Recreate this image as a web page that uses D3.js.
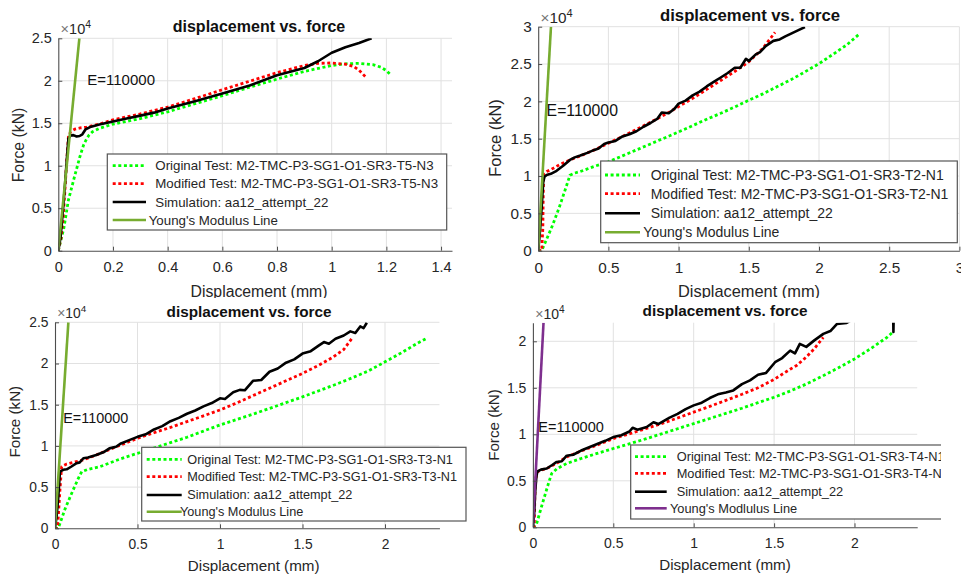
<!DOCTYPE html>
<html>
<head>
<meta charset="utf-8">
<script src="https://cdn.jsdelivr.net/npm/d3@7"></script>
<style>
  body { margin: 0; background: #fff; }
  svg { display: block; }
</style>
</head>
<body>
<svg id="fig" width="961" height="577"></svg>
<script>
// ---------------- data: displacement (mm), force (kN) ----------------

// Specimen T5-N3
const t5Original = [[0,0],[0.02,2600],[0.037,5960],[0.06,8800],[0.079,11060],[0.092,12400],[0.101,13000],[0.112,13600],[0.125,14000],[0.15,14400],[0.2,14900],[0.3,15550],[0.4,16350],[0.5,17300],[0.6,18250],[0.7,19250],[0.8,20200],[0.9,21100],[1.0,21800],[1.05,22000],[1.1,22050],[1.15,21900],[1.18,21600],[1.2,21200],[1.213,20800]];
const t5Modified = [[0,0],[0.01,1500],[0.018,4000],[0.025,7500],[0.031,10700],[0.037,13400],[0.045,14000],[0.06,14300],[0.08,14450],[0.104,14550],[0.15,14900],[0.2,15400],[0.3,16100],[0.4,16900],[0.5,17900],[0.6,18950],[0.7,19950],[0.8,20950],[0.9,21800],[0.95,22050],[1.0,22100],[1.05,21950],[1.08,21700],[1.1,21250],[1.124,20450]];
const t5Simulation = [[0,0],[0.008,1500],[0.018,5200],[0.025,8000],[0.031,10700],[0.037,13200],[0.045,13550],[0.055,13600],[0.067,13450],[0.078,13500],[0.088,13700],[0.1,14300],[0.12,14600],[0.15,14850],[0.2,15200],[0.25,15550],[0.3,15900],[0.35,16250],[0.4,16750],[0.5,17600],[0.6,18500],[0.7,19450],[0.8,20650],[0.9,21500],[0.95,22300],[1.0,23300],[1.05,23950],[1.1,24450],[1.146,25000]];
const t5Youngs = [[0,0],[0.077,25000]];

// Specimen T2-N1
const t2Original = [[0,0],[0.025,0],[0.05,1100],[0.1,3300],[0.15,5800],[0.2,8600],[0.226,10100],[0.26,10400],[0.3,10600],[0.4,11300],[0.5,11900],[0.6,12700],[0.7,13500],[0.8,14300],[0.9,15100],[1.0,15900],[1.1,16750],[1.2,17600],[1.3,18400],[1.4,19250],[1.5,20150],[1.6,21000],[1.7,21950],[1.8,22900],[1.9,23950],[2.0,25050],[2.1,26300],[2.2,27600],[2.292,29100]];
const t2Modified = [[0,0],[0.025,0],[0.033,3000],[0.036,7700],[0.04,10300],[0.06,10600],[0.084,10800],[0.15,11500],[0.226,12150],[0.3,12700],[0.4,13500],[0.5,14400],[0.6,15300],[0.7,16250],[0.8,17200],[0.9,18200],[1.0,19300],[1.1,20400],[1.2,21600],[1.3,22800],[1.4,24000],[1.5,25300],[1.6,27100],[1.687,29250]];
const t2Simulation = [[0,0],[0.01,2000],[0.025,5900],[0.036,9240],[0.045,9900],[0.06,10140],[0.09,10300],[0.131,10700],[0.18,11400],[0.226,12150],[0.26,12500],[0.3,12750],[0.35,13100],[0.4,13500],[0.43,13700],[0.47,14300],[0.5,14500],[0.55,14700],[0.6,15300],[0.65,15600],[0.7,16000],[0.75,16600],[0.8,17100],[0.85,17700],[0.88,18500],[0.93,18400],[0.97,19000],[1.0,19700],[1.05,20100],[1.1,20800],[1.15,21300],[1.2,22000],[1.25,22600],[1.3,23200],[1.35,23800],[1.4,24500],[1.44,24500],[1.48,25700],[1.5,25400],[1.55,26300],[1.58,26600],[1.62,27400],[1.675,28100],[1.72,28300],[1.76,28700],[1.805,29100],[1.85,29500],[1.9,29950]];
const t2Youngs = [[0,0],[0.091,30000]];

// Specimen T3-N1
const t3Original = [[0,0],[0.02,0],[0.06,2300],[0.1,4200],[0.14,6000],[0.162,6870],[0.2,7150],[0.273,7480],[0.4,8450],[0.5,9100],[0.6,9750],[0.7,10400],[0.8,11050],[0.9,11800],[1.0,12540],[1.1,13200],[1.2,13850],[1.3,14550],[1.4,15250],[1.5,15950],[1.6,16700],[1.7,17450],[1.8,18250],[1.9,19100],[2.0,20200],[2.1,21300],[2.2,22500],[2.253,23060]];
const t3Modified = [[0,0],[0.015,0],[0.02,1400],[0.03,4650],[0.04,7480],[0.071,7800],[0.12,8050],[0.172,8300],[0.25,8900],[0.3,9320],[0.4,10120],[0.5,10920],[0.6,11600],[0.7,12250],[0.8,12950],[0.9,13650],[1.0,14360],[1.1,15200],[1.2,16100],[1.3,17000],[1.4,17900],[1.5,18800],[1.6,19800],[1.687,20800],[1.75,21700],[1.8,23060]];
const t3Simulation = [[0,0],[0.01,1500],[0.02,3800],[0.03,6870],[0.05,7100],[0.071,7160],[0.1,7500],[0.131,7900],[0.15,8000],[0.172,8500],[0.2,8600],[0.25,8900],[0.3,9300],[0.33,9700],[0.37,9900],[0.4,10300],[0.45,10700],[0.5,11100],[0.55,11400],[0.6,12000],[0.65,12400],[0.7,13000],[0.75,13400],[0.8,13900],[0.85,14300],[0.9,14800],[0.95,15200],[1.0,15780],[1.03,15700],[1.08,16500],[1.12,16800],[1.15,16750],[1.2,17900],[1.25,18000],[1.3,19000],[1.35,19400],[1.4,20100],[1.45,20500],[1.5,21200],[1.55,21500],[1.6,22200],[1.63,22600],[1.66,22400],[1.7,23000],[1.75,23400],[1.79,23900],[1.82,23700],[1.85,24500],[1.87,24300],[1.89,24950]];
const t3Youngs = [[0,0],[0.081,25000]];

// Specimen T4-N1
const t4Original = [[0,0],[0.02,200],[0.06,2600],[0.1,4900],[0.117,5790],[0.15,6300],[0.21,6860],[0.3,7400],[0.4,7950],[0.5,8470],[0.6,8980],[0.7,9500],[0.8,10050],[0.9,10600],[1.0,11150],[1.1,11700],[1.2,12250],[1.3,12800],[1.4,13400],[1.5,13980],[1.6,14650],[1.7,15400],[1.8,16250],[1.9,17150],[2.0,18100],[2.1,19200],[2.2,20400],[2.237,20970]];
const t4Modified = [[0,0],[0.008,0],[0.013,4000],[0.02,5400],[0.028,5960],[0.05,6150],[0.086,6320],[0.15,6900],[0.21,7570],[0.3,8200],[0.4,8850],[0.5,9540],[0.6,10050],[0.7,10600],[0.8,11150],[0.9,11750],[1.0,12390],[1.1,13000],[1.2,13650],[1.3,14300],[1.4,15000],[1.5,15900],[1.6,17000],[1.64,17400],[1.7,18300],[1.75,19200],[1.806,20430]];
const t4Simulation = [[0,0],[0.008,1500],[0.015,4000],[0.022,5500],[0.028,6000],[0.05,6200],[0.086,6320],[0.12,6700],[0.148,7030],[0.18,7100],[0.21,7700],[0.25,7800],[0.3,8250],[0.35,8600],[0.4,8950],[0.45,9300],[0.5,9700],[0.55,9900],[0.6,10300],[0.62,10700],[0.65,10500],[0.708,10780],[0.75,11300],[0.78,11100],[0.85,11800],[0.9,12200],[0.95,12700],[1.0,13110],[1.05,13400],[1.1,13900],[1.15,14300],[1.2,14500],[1.246,14720],[1.3,15400],[1.35,15800],[1.4,16400],[1.45,16600],[1.506,17750],[1.55,18200],[1.6,19000],[1.63,18700],[1.66,19720],[1.7,19400],[1.75,20100],[1.806,20800],[1.85,21100],[1.89,21860],[1.951,21970],[2.05,23000],[2.2,24000],[2.24,24000],[2.242,21000],[2.245,24000]];
const t4Youngs = [[0,0],[0.066,22000]];

// legend texts
const namesT5 = ["Original Test: M2-TMC-P3-SG1-O1-SR3-T5-N3", "Modified Test: M2-TMC-P3-SG1-O1-SR3-T5-N3", "Simulation: aa12_attempt_22", "Young's Modulus Line"];
const namesT2 = ["Original Test: M2-TMC-P3-SG1-O1-SR3-T2-N1", "Modified Test: M2-TMC-P3-SG1-O1-SR3-T2-N1", "Simulation: aa12_attempt_22", "Young's Modulus Line"];
const namesT3 = ["Original Test: M2-TMC-P3-SG1-O1-SR3-T3-N1", "Modified Test: M2-TMC-P3-SG1-O1-SR3-T3-N1", "Simulation: aa12_attempt_22", "Young's Modulus Line"];
const namesT4 = ["Original Test: M2-TMC-P3-SG1-O1-SR3-T4-N1", "Modified Test: M2-TMC-P3-SG1-O1-SR3-T4-N1", "Simulation: aa12_attempt_22", "Young's Modlulus Line"];

// axis ticks
const xTicksT5 = [0, 0.2, 0.4, 0.6, 0.8, 1, 1.2, 1.4];
const xTicksT2 = [0, 0.5, 1, 1.5, 2, 2.5, 3];
const xTicksT3 = [0, 0.5, 1, 1.5, 2];
const xTicksT4 = [0, 0.5, 1, 1.5, 2];
const yTicksT5 = [0, 5000, 10000, 15000, 20000, 25000];
const yTicksT2 = [0, 5000, 10000, 15000, 20000, 25000, 30000];
const yTicksT3 = [0, 5000, 10000, 15000, 20000, 25000];
const yTicksT4 = [0, 5000, 10000, 15000, 20000];

const modulusLabel = "E=110000";
const titleText = "displacement vs. force";
const xLabelText = "Displacement (mm)";
const yLabelText = "Force (kN)";

// ---------------- drawing ----------------
const FONT = '"Liberation Sans", Arial, Helvetica, sans-serif';
const TEXT = "#262626";
const GRID = "#e1e1e1";
const AXIS = "#4d4d4d";
const C_ORIG = "#00ff00", C_MOD = "#ff0000", C_SIM = "#000000";

const panels = [
  { id: "a", clip: [0, 0, 480, 298],
    box: { l: 58.3, t: 38.3, b: 250.7 }, pxPerMm: 273.4, xMax: 1.44, yMax: 25000,
    xTicks: xTicksT5, yTicks: yTicksT5,
    series: [t5Original, t5Modified, t5Simulation, t5Youngs], names: namesT5, youngColor: "#77ac30",
    fs: 14.5, titleFs: 16, labelFs: 15.8, legFs: 13.3, eFs: 15,
    title: [259, 26.7], xLabel: [259, 291.5], yLabel: [18.3, 145],
    ePos: [0.106, 20100],
    legend: { box: [107.3, 154, 446.7, 230], rows: [165.7, 183.7, 202, 220], sample: [112.7, 146], tx: 155.3, tx4: 148.7 } },
  { id: "b", clip: [480, 0, 961, 298],
    box: { l: 538.2, t: 26.7, b: 250.7 }, pxPerMm: 140.4, xMax: 3, yMax: 30000,
    xTicks: xTicksT2, yTicks: yTicksT2,
    series: [t2Original, t2Modified, t2Simulation, t2Youngs], names: namesT2, youngColor: "#77ac30",
    fs: 15.3, titleFs: 16.7, labelFs: 16.4, legFs: 14, eFs: 15.8,
    title: [750, 15], xLabel: [749, 291], yLabel: [495, 138],
    ePos: [0.06, 18800],
    legend: { box: [600.7, 161, 957.3, 242.7], rows: [175, 193.7, 213.3, 232.3], sample: [605, 640], tx: 650.7, tx4: 643.3 } },
  { id: "c", clip: [0, 298, 480, 577],
    box: { l: 55, t: 322.3, b: 528.3 }, pxPerMm: 165, xMax: 2.33, yMax: 25000,
    xTicks: xTicksT3, yTicks: yTicksT3,
    series: [t3Original, t3Modified, t3Simulation, t3Youngs], names: namesT3, youngColor: "#77ac30",
    fs: 13.8, titleFs: 15.3, labelFs: 15.2, legFs: 12.7, eFs: 14.4,
    title: [249, 311.7], xLabel: [253.7, 566], yLabel: [15, 421.7],
    ePos: [0.05, 13350],
    legend: { box: [141.7, 447.3, 466, 521], rows: [459.3, 476.7, 495, 511.7], sample: [146.7, 181.7], tx: 187.3, tx4: 180 } },
  { id: "d", clip: [480, 298, 941, 577],
    box: { l: 532.9, t: 322.7, b: 527.3 }, pxPerMm: 160.8, xMax: 2.39, yMax: 22000,
    xTicks: xTicksT4, yTicks: yTicksT4,
    series: [t4Original, t4Modified, t4Simulation, t4Youngs], names: namesT4, youngColor: "#7e2f8e",
    fs: 14, titleFs: 15.3, labelFs: 15.2, legFs: 12.8, eFs: 14.5,
    title: [725, 310.7], xLabel: [725, 565], yLabel: [493.3, 425],
    ePos: [0.034, 10780],
    legend: { box: [630.7, 445, 960, 519], rows: [456.7, 473.3, 491.7, 508.3], sample: [635, 666.7], tx: 676.7, tx4: 670 } }
];

const svg = d3.select("#fig");
const defs = svg.append("defs");
const fmtTick = d => String(+d.toFixed(2));

panels.forEach(p => {
  const right = p.box.l + p.xMax * p.pxPerMm;
  const x = d3.scaleLinear().domain([0, p.xMax]).range([p.box.l, right]);
  const y = d3.scaleLinear().domain([0, p.yMax]).range([p.box.b, p.box.t]);

  defs.append("clipPath").attr("id", "region-" + p.id).append("rect")
    .attr("x", p.clip[0]).attr("y", p.clip[1])
    .attr("width", p.clip[2] - p.clip[0]).attr("height", p.clip[3] - p.clip[1]);
  defs.append("clipPath").attr("id", "plot-" + p.id).append("rect")
    .attr("x", p.box.l).attr("y", p.box.t)
    .attr("width", right - p.box.l).attr("height", p.box.b - p.box.t);

  const g = svg.append("g").attr("clip-path", `url(#region-${p.id})`)
    .style("font-family", FONT);

  // grid
  const grid = g.append("g");
  grid.selectAll(".gx").data(p.xTicks.filter(v => v > 0)).join("line")
    .attr("x1", d => x(d)).attr("x2", d => x(d))
    .attr("y1", p.box.t).attr("y2", p.box.b)
    .attr("stroke", GRID).attr("stroke-width", 1);
  grid.selectAll(".gy").data(p.yTicks.filter(v => v > 0)).join("line")
    .attr("x1", p.box.l).attr("x2", right)
    .attr("y1", d => y(d)).attr("y2", d => y(d))
    .attr("stroke", GRID).attr("stroke-width", 1);

  // curves
  const line = d3.line().x(d => x(d[0])).y(d => y(d[1]));
  const plot = g.append("g").attr("clip-path", `url(#plot-${p.id})`);
  const styles = [
    { color: C_ORIG, width: 2.8, dash: "3,2.6" },
    { color: C_MOD, width: 2.8, dash: "3,2.6" },
    { color: C_SIM, width: 2.6, dash: null },
    { color: p.youngColor, width: 2.6, dash: null }
  ];
  p.series.forEach((s, i) => {
    plot.append("path").datum(s).attr("d", line)
      .attr("fill", "none").attr("stroke", styles[i].color)
      .attr("stroke-width", styles[i].width)
      .attr("stroke-dasharray", styles[i].dash)
      .attr("stroke-linejoin", "round");
  });

  // axes (left and bottom only, ticks pointing inward)
  const xAxis = d3.axisBottom(x).tickValues(p.xTicks).tickFormat(fmtTick).tickSizeInner(-4).tickSizeOuter(0).tickPadding(11);
  const yAxis = d3.axisLeft(y).tickValues(p.yTicks).tickFormat(d => fmtTick(d / 1e4)).tickSizeInner(-4).tickSizeOuter(0).tickPadding(10);
  const gx = g.append("g").attr("transform", `translate(0,${p.box.b})`).call(xAxis);
  const gy = g.append("g").attr("transform", `translate(${p.box.l},0)`).call(yAxis);
  [gx, gy].forEach(a => {
    a.select(".domain").attr("stroke", AXIS).attr("stroke-width", 1.1);
    a.selectAll(".tick line").attr("stroke", AXIS);
    a.selectAll(".tick text").attr("fill", TEXT).style("font-size", p.fs + "px").style("font-family", FONT);
  });
  gy.selectAll(".tick text").attr("x", -6.5);

  // exponent marker
  const mult = g.append("text").attr("x", p.box.l + 2.3).attr("y", p.box.t - 4)
    .attr("fill", TEXT).style("font-size", p.fs + "px");
  mult.append("tspan").attr("fill", "#777").text("\u00d7");
  mult.append("tspan").text("10");
  mult.append("tspan").attr("dy", -6).style("font-size", (p.fs * 0.72) + "px").text("4");

  // modulus annotation
  g.append("text").attr("x", x(p.ePos[0])).attr("y", y(p.ePos[1])).attr("dy", "0.35em")
    .attr("fill", "#111").style("font-size", p.eFs + "px").text(modulusLabel);

  // title and axis labels
  g.append("text").attr("x", p.title[0]).attr("y", p.title[1]).attr("dy", "0.35em")
    .attr("text-anchor", "middle").attr("fill", "#111").style("font-weight", "bold")
    .style("font-size", p.titleFs + "px").text(titleText);
  g.append("text").attr("x", p.xLabel[0]).attr("y", p.xLabel[1]).attr("dy", "0.35em")
    .attr("text-anchor", "middle").attr("fill", TEXT)
    .style("font-size", p.labelFs + "px").text(xLabelText);
  g.append("text").attr("transform", `translate(${p.yLabel[0]},${p.yLabel[1]}) rotate(-90)`)
    .attr("dy", "0.35em").attr("text-anchor", "middle").attr("fill", TEXT)
    .style("font-size", p.labelFs + "px").text(yLabelText);

  // legend
  const L = p.legend;
  const lg = g.append("g");
  lg.append("rect").attr("x", L.box[0]).attr("y", L.box[1])
    .attr("width", L.box[2] - L.box[0]).attr("height", L.box[3] - L.box[1])
    .attr("fill", "#fff").attr("stroke", "#555").attr("stroke-width", 1.2);
  p.names.forEach((name, i) => {
    lg.append("line").attr("x1", L.sample[0]).attr("x2", L.sample[1])
      .attr("y1", L.rows[i]).attr("y2", L.rows[i])
      .attr("stroke", styles[i].color).attr("stroke-width", styles[i].width)
      .attr("stroke-dasharray", styles[i].dash);
    lg.append("text").attr("x", i === 3 ? L.tx4 : L.tx).attr("y", L.rows[i]).attr("dy", "0.35em")
      .attr("fill", TEXT).style("font-size", p.legFs + "px").text(name);
  });
});
</script>
</body>
</html>
